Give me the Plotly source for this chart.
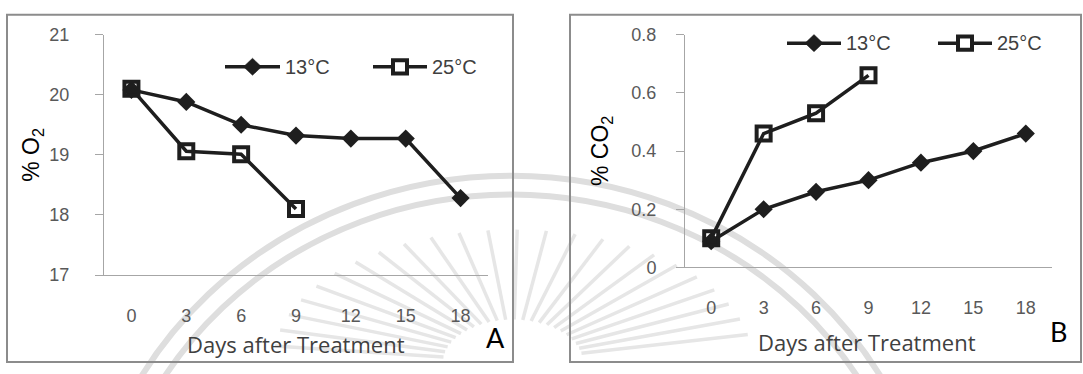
import math
import plotly.graph_objects as go

W, H = 1083, 374

# Sampling days and gas readings
days = [0, 3, 6, 9, 12, 15, 18]
days_25 = [0, 3, 6, 9]
o2_13 = [20.08, 19.88, 19.50, 19.32, 19.27, 19.27, 18.28]
o2_25 = [20.10, 19.06, 19.01, 18.10]
co2_13 = [0.09, 0.20, 0.26, 0.30, 0.36, 0.40, 0.46]
co2_25 = [0.10, 0.46, 0.53, 0.66]
series_names = ["13°C", "25°C"]
o2_ticks = [17, 18, 19, 20, 21]
co2_ticks = [0, 0.2, 0.4, 0.6, 0.8]
panel_letters = ["A", "B"]
x_title = "Days after Treatment"

INK = "#1e1e1e"
AXIS_GREY = "#a6a6a6"
ARIAL = "Liberation Sans, Arial, sans-serif"
TICK_FONT = dict(family=ARIAL, size=18, color="#595959")


def fx(px):
    return px / W


def fy(py):
    return 1 - py / H


fig = go.Figure()

style_13 = dict(mode="lines+markers", line=dict(color=INK, width=3.5),
                marker=dict(symbol="diamond", size=14, color=INK))
style_25 = dict(mode="lines+markers", line=dict(color=INK, width=3.5),
                marker=dict(symbol="square-open", size=14, color=INK,
                            line=dict(width=4, color=INK)))

fig.add_trace(go.Scatter(x=days, y=o2_13, name=series_names[0], xaxis="x", yaxis="y", **style_13))
fig.add_trace(go.Scatter(x=days_25, y=o2_25, name=series_names[1], xaxis="x", yaxis="y", **style_25))
fig.add_trace(go.Scatter(x=days, y=co2_13, name=series_names[0], xaxis="x2", yaxis="y2", **style_13))
fig.add_trace(go.Scatter(x=days_25, y=co2_25, name=series_names[1], xaxis="x2", yaxis="y2", **style_25))

common_x = dict(range=[-1.5, 19.5], tickvals=days, ticks="", showline=True, linecolor=AXIS_GREY,
                linewidth=1, showgrid=False, zeroline=False, tickfont=TICK_FONT,
                ticklabelstandoff=24, fixedrange=True)
common_y = dict(ticks="outside", ticklen=8, tickcolor=AXIS_GREY, tickwidth=1, showline=True,
                linecolor=AXIS_GREY, linewidth=1, showgrid=False, zeroline=False,
                tickfont=TICK_FONT, fixedrange=True)

fig.update_layout(
    width=W, height=H,
    margin=dict(l=0, r=0, t=0, b=0),
    paper_bgcolor="white", plot_bgcolor="rgba(0,0,0,0)",
    showlegend=False,
    xaxis=dict(domain=[fx(104), fx(488)], anchor="y", **common_x),
    yaxis=dict(domain=[fy(280), fy(26)], anchor="x", range=[17, 21], tickvals=o2_ticks,
               ticklabelstandoff=22, **common_y),
    xaxis2=dict(domain=[fx(685), fx(1052)], anchor="y2", **common_x),
    yaxis2=dict(domain=[fy(272), fy(26)], anchor="x2", range=[0, 0.8], tickvals=co2_ticks,
                ticklabelstandoff=16, **common_y),
)

shapes = []

# Faint seal in the background: double ring and a flattened sunburst
SEAL = "#dedede"
rcx, rcy = 511, 603
for r in (428, 408):
    shapes.append(dict(type="circle", xref="paper", yref="paper", layer="below",
                       x0=fx(rcx - r), x1=fx(rcx + r), y0=fy(rcy + r), y1=fy(rcy - r),
                       line=dict(color=SEAL, width=6)))
scx, scy = 513, 372
ang = 187
while ang <= 353:
    a = math.radians(ang)
    shapes.append(dict(type="line", xref="paper", yref="paper", layer="below",
                       x0=fx(scx + 70 * math.cos(a)), y0=fy(scy + 45 * math.sin(a)),
                       x1=fx(scx + 240 * math.cos(a)), y1=fy(scy + 140 * math.sin(a)),
                       line=dict(color="#e6e6e6", width=3.5)))
    ang += 7

# Panel frames
for x0, x1 in ((7, 513), (570, 1081)):
    shapes.append(dict(type="rect", xref="paper", yref="paper", layer="above",
                       x0=fx(x0), x1=fx(x1), y0=fy(372), y1=fy(5),
                       line=dict(color="#8c8c8c", width=2)))

annotations = []


def legend_key(x_start, x_end, y, symbol, text):
    xm = (x_start + x_end) / 2
    shapes.append(dict(type="line", xref="paper", yref="paper", layer="above",
                       x0=fx(x_start), x1=fx(x_end), y0=fy(y), y1=fy(y),
                       line=dict(color=INK, width=3.5)))
    if symbol == "diamond":
        d = 9
        path = (f"M {fx(xm - d)},{fy(y)} L {fx(xm)},{fy(y - d)} "
                f"L {fx(xm + d)},{fy(y)} L {fx(xm)},{fy(y + d)} Z")
        shapes.append(dict(type="path", xref="paper", yref="paper", layer="above", path=path,
                           fillcolor=INK, line=dict(color=INK, width=0.5)))
    else:
        s = 7
        shapes.append(dict(type="rect", xref="paper", yref="paper", layer="above",
                           x0=fx(xm - s), x1=fx(xm + s), y0=fy(y + s), y1=fy(y - s),
                           fillcolor="white", line=dict(color=INK, width=4)))
    annotations.append(dict(xref="paper", yref="paper", x=fx(x_end + 3), y=fy(y),
                            xanchor="left", yanchor="middle", showarrow=False, text=text,
                            font=dict(family=ARIAL, size=20, color="#404040")))


legend_key(225, 280, 60, "diamond", series_names[0])
legend_key(373, 427, 60, "square", series_names[1])
legend_key(787, 841, 35, "diamond", series_names[0])
legend_key(938, 992, 35, "square", series_names[1])

TITLE_FONT = dict(family=ARIAL, size=23, color="black")
annotations.append(dict(xref="paper", yref="paper", x=fx(33), y=fy(153), textangle=-90,
                        xanchor="center", yanchor="middle", showarrow=False,
                        text="% O<sub>2</sub>", font=TITLE_FONT))
annotations.append(dict(xref="paper", yref="paper", x=fx(601), y=fy(149), textangle=-90,
                        xanchor="center", yanchor="middle", showarrow=False,
                        text="% CO<sub>2</sub>", font=TITLE_FONT))

XT_FONT = dict(family="Open Sans, Lato, sans-serif", size=22, color="#404040")
for cx, cy in ((296, 353), (867, 351)):
    annotations.append(dict(xref="paper", yref="paper", x=fx(cx), y=fy(cy), xanchor="center",
                            yanchor="middle", showarrow=False, text=x_title, font=XT_FONT))

LETTER_FONT = dict(family="Lato, Carlito, Calibri, sans-serif", size=27, color="black")
for letter, (cx, cy) in zip(panel_letters, ((495, 346), (1058, 340))):
    annotations.append(dict(xref="paper", yref="paper", x=fx(cx), y=fy(cy), xanchor="center",
                            yanchor="middle", showarrow=False, text=letter, font=LETTER_FONT))

fig.update_layout(shapes=shapes, annotations=annotations)
fig.write_html("out.html")
